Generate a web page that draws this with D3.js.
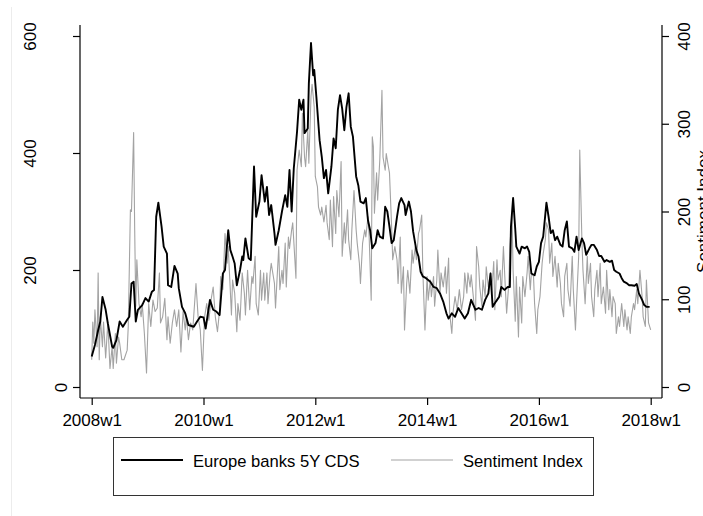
<!DOCTYPE html>
<html>
<head>
<meta charset="utf-8">
<script src="https://cdn.jsdelivr.net/npm/d3@7/dist/d3.min.js"></script>
<style>
  html, body { margin: 0; padding: 0; background: #fff; }
  svg { display: block; font-family: "Liberation Sans", Arial, Helvetica, sans-serif; }
</style>
</head>
<body>
<svg id="chart" width="703" height="516"></svg>
<script>
// ---- Data (weekly index: 0 = 2008w1, 520 = 2018w1) ----
const cdsWeeks = [0,3,6,8,10,13,15,19,20,23,26,29,33,35,37,39,41,43,47,50,53,56,58,60,62,65,67,70,71,74,77,80,81,84,87,90,95,98,101,104,106,110,113,116,119,122,124,127,129,131,133,135,138,140,141,143,146,148,151,153,156,158,161,163,165,167,170,171,174,177,180,182,184,186,188,191,193,195,197,198,201,202,204,206,207,209,212,214,216,218,220,223,225,227,229,231,233,235,237,239,241,243,246,248,250,253,255,257,259,261,264,266,268,271,273,275,277,279,281,284,286,288,291,292,295,297,299,302,304,306,308,311,315,318,321,324,327,330,332,335,338,341,344,347,350,353,357,360,363,366,369,371,373,376,379,381,384,387,389,390,392,394,395,398,400,403,405,407,409,412,414,416,418,420,423,425,427,429,431,433,436,438,440,442,444,447,449,451,453,456,458,460,463,465,467,470,472,474,477,479,482,484,486,488,491,493,495,498,500,502,505,507,509,512,514,516,519];
const cdsValues = [52,72,97,112,154,132,109,69,67,80,112,103,115,120,177,180,112,132,140,152,146,163,166,291,315,274,240,228,174,171,207,194,169,137,126,106,103,112,120,119,100,149,132,129,123,194,200,268,234,223,211,174,200,223,217,254,220,217,377,291,317,362,317,342,294,311,263,243,268,300,328,308,371,300,374,436,491,474,491,434,442,519,588,533,542,496,422,394,357,371,331,377,425,408,474,499,476,439,479,502,445,428,360,345,317,314,323,285,268,237,246,268,257,254,308,300,274,246,251,291,314,323,311,294,317,300,266,234,223,197,189,186,180,171,169,160,146,126,117,126,120,135,126,117,126,149,132,135,132,149,160,194,137,146,154,171,166,171,171,274,323,270,240,228,240,237,240,231,194,191,206,214,246,257,315,291,263,268,251,257,243,240,268,283,240,237,231,257,234,254,246,226,237,243,243,234,224,224,214,217,214,216,200,197,194,186,180,177,174,174,173,176,160,149,140,137,137];

const sentWeeks = [0,1,2,3,5,6,7,8,10,11,13,15,17,19,20,22,23,25,26,28,30,33,34,36,37,39,40,41,42,44,46,47,49,51,53,55,57,59,61,63,64,66,68,70,71,73,75,77,79,81,83,85,87,88,90,92,94,97,99,101,103,105,107,109,111,113,115,117,119,120,122,124,126,127,130,131,133,135,136,138,140,142,143,145,147,149,150,152,153,155,157,158,160,161,163,164,166,167,170,171,174,175,177,178,180,181,183,184,186,187,190,191,193,195,196,198,199,201,202,204,205,207,208,210,211,213,214,216,218,219,221,222,224,225,227,228,230,232,233,235,236,238,239,241,242,244,246,247,249,250,252,254,255,257,258,260,261,262,263,265,266,268,270,271,273,274,276,277,279,280,282,284,285,287,288,290,291,293,294,296,298,299,301,302,304,305,307,308,310,312,313,315,316,318,319,321,322,324,325,327,329,330,332,333,335,336,338,340,342,344,346,347,349,350,352,353,355,357,358,360,361,363,364,366,367,369,371,372,374,375,377,378,380,381,383,385,386,388,389,391,392,394,395,397,398,400,401,403,405,406,408,409,411,412,414,415,417,419,420,422,423,425,426,428,429,431,433,434,436,437,439,440,442,443,445,447,448,450,451,453,454,456,457,459,461,462,464,465,467,468,470,471,473,474,476,478,479,481,482,484,485,487,488,490,491,493,495,496,498,499,501,502,504,505,507,508,510,512,513,515,516,518,520];
const sentValues = [31,74,50,88,46,130,31,80,46,74,33,74,21,46,21,61,27,57,50,31,31,42,69,202,200,290,179,92,145,95,80,95,61,16,95,69,99,86,90,130,73,80,101,54,80,50,73,88,69,88,40,86,65,80,54,73,65,118,80,65,19,80,95,76,99,114,80,63,88,126,111,175,141,160,82,122,107,63,95,76,130,107,82,133,88,126,118,149,95,82,133,99,130,99,130,95,130,141,118,90,160,111,133,118,164,114,171,158,179,187,124,247,270,251,312,262,251,293,255,331,345,319,240,228,205,196,205,188,207,187,168,213,160,217,175,224,194,257,149,187,164,202,168,145,179,224,179,164,141,118,164,179,171,194,175,99,285,274,198,244,213,259,338,262,247,266,251,244,183,145,160,145,118,171,107,137,65,118,133,107,156,141,160,145,175,179,196,133,65,126,99,122,103,126,92,122,156,107,130,114,137,107,147,84,61,84,103,88,111,88,103,130,107,130,114,128,103,76,160,137,114,92,122,103,137,114,130,107,143,88,145,122,133,103,160,107,84,118,160,198,133,75,126,57,114,73,126,103,130,149,111,130,126,95,61,88,103,141,152,168,187,179,141,164,126,149,114,141,118,95,80,126,141,111,92,149,111,65,95,149,270,168,133,95,149,118,141,103,80,111,133,103,141,95,114,84,133,88,111,80,103,95,61,80,69,95,69,88,65,80,61,80,95,88,111,95,133,103,80,69,122,73,65];

const xTickWeeks = [0, 104, 208, 312, 416, 520];
const xTickLabels = ["2008w1", "2010w1", "2012w1", "2014w1", "2016w1", "2018w1"];
const leftTicks = [0, 200, 400, 600];
const rightTicks = [0, 100, 200, 300, 400];
const seriesNames = ["Europe banks 5Y CDS", "Sentiment Index"];
const rightTitle = "Sentiment Index";

// ---- Layout ----
const svg = d3.select("#chart");
const W = 703, H = 516;
const axL = 80, axR = 662, axTop = 25, axBottom = 398;

svg.append("rect").attr("width", W).attr("height", H).attr("fill", "#fff");
svg.append("line").attr("x1", 11.5).attr("x2", 11.5).attr("y1", 7).attr("y2", H)
  .attr("stroke", "#ececec").attr("stroke-width", 1);

const x = d3.scaleLinear().domain([0, 520]).range([91.7, 650.7]);
const yL = d3.scaleLinear().domain([0, 600]).range([387, 36]);
const yR = d3.scaleLinear().domain([0, 400]).range([387, 36]);

const fontSize = 17;

// Left axis
const gL = svg.append("g").attr("transform", `translate(${axL},0)`);
gL.call(d3.axisLeft(yL).tickValues(leftTicks).tickSize(7).tickFormat(""));
gL.select(".domain").attr("d", `M0,${axTop}V${axBottom}`);
gL.selectAll("path,line").attr("stroke", "#000").attr("stroke-width", 1.2);
gL.selectAll(".tick").append("text")
  .attr("transform", d => `translate(${String(d).length === 1 ? -13 : -44},0) rotate(-90)`)
  .attr("text-anchor", "middle")
  .attr("fill", "#000")
  .attr("font-size", fontSize)
  .text(d => d);

// Right axis
const gR = svg.append("g").attr("transform", `translate(${axR},0)`);
gR.call(d3.axisRight(yR).tickValues(rightTicks).tickSize(7).tickFormat(""));
gR.select(".domain").attr("d", `M0,${axTop}V${axBottom}`);
gR.selectAll("path,line").attr("stroke", "#000").attr("stroke-width", 1.2);
gR.selectAll(".tick").append("text")
  .attr("transform", `translate(28,0) rotate(-90)`)
  .attr("text-anchor", "middle")
  .attr("fill", "#000")
  .attr("font-size", fontSize)
  .text(d => d);
svg.append("text")
  .attr("transform", `translate(709,${(36 + 387) / 2}) rotate(-90)`)
  .attr("text-anchor", "middle")
  .attr("font-size", fontSize)
  .attr("fill", "#000")
  .text(rightTitle);

// Bottom axis
const gB = svg.append("g").attr("transform", `translate(0,${axBottom})`);
gB.call(d3.axisBottom(x).tickValues(xTickWeeks).tickSize(7).tickFormat(""));
gB.select(".domain").attr("d", `M${axL},0H${axR}`);
gB.selectAll("path,line").attr("stroke", "#000").attr("stroke-width", 1.2);
gB.selectAll(".tick").append("text")
  .attr("y", 28)
  .attr("text-anchor", "middle")
  .attr("fill", "#000")
  .attr("font-size", fontSize)
  .text((d, i) => xTickLabels[i]);

// Lines
const sentData = sentWeeks.map((w, i) => [w, sentValues[i]]);
const cdsData = cdsWeeks.map((w, i) => [w, cdsValues[i]]);

svg.append("path")
  .datum(sentData)
  .attr("fill", "none")
  .attr("stroke", "#a3a3a3")
  .attr("stroke-width", 1.1)
  .attr("stroke-linejoin", "round")
  .attr("d", d3.line().x(d => x(d[0])).y(d => yR(d[1])));

svg.append("path")
  .datum(cdsData)
  .attr("fill", "none")
  .attr("stroke", "#000")
  .attr("stroke-width", 1.9)
  .attr("stroke-linejoin", "round")
  .attr("d", d3.line().x(d => x(d[0])).y(d => yL(d[1])));

// Legend
const lg = svg.append("g");
lg.append("rect").attr("x", 113.5).attr("y", 437.5).attr("width", 480).attr("height", 58)
  .attr("fill", "#fff").attr("stroke", "#333").attr("stroke-width", 1);
const legendItems = [
  { name: seriesNames[0], x1: 121, x2: 183, tx: 193, color: "#000", w: 1.9 },
  { name: seriesNames[1], x1: 391, x2: 453, tx: 463, color: "#a3a3a3", w: 1.1 }
];
legendItems.forEach(it => {
  lg.append("line").attr("x1", it.x1).attr("x2", it.x2).attr("y1", 460).attr("y2", 460)
    .attr("stroke", it.color).attr("stroke-width", it.w);
  lg.append("text").attr("x", it.tx).attr("y", 466.5).attr("font-size", 16.6)
    .attr("fill", "#000").text(it.name);
});
</script>
</body>
</html>
